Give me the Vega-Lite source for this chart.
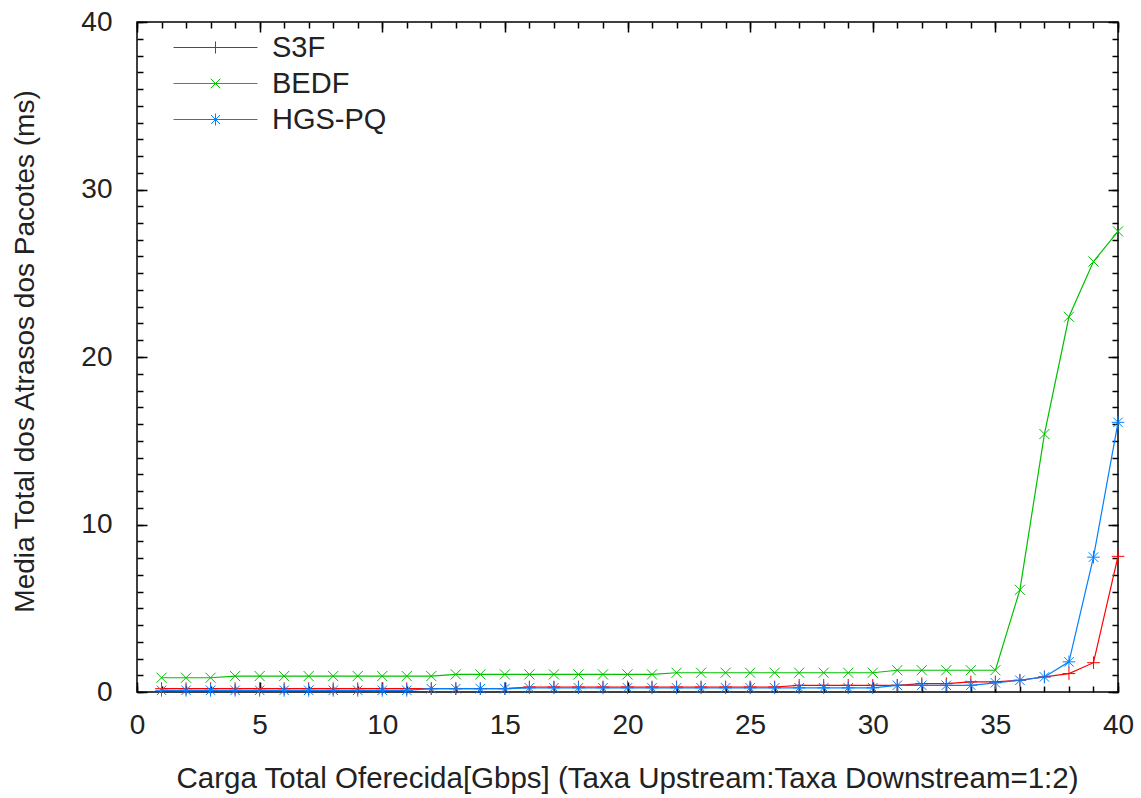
{
  "$schema": "https://vega.github.io/schema/vega-lite/v6.json",
  "width": 981,
  "height": 670,
  "autosize": {"type": "none"},
  "padding": {"left": 137, "top": 22, "right": 23, "bottom": 106},
  "background": "white",
  "config": {
    "view": {"stroke": "#000", "strokeWidth": 1.5},
    "font": "Liberation Sans",
    "axis": {
      "grid": false,
      "domain": false,
      "labelFont": "Liberation Sans",
      "titleFont": "Liberation Sans",
      "labelFontSize": 28,
      "titleFontSize": 28,
      "titleFontWeight": "normal",
      "labelColor": "#222",
      "titleColor": "#222",
      "tickColor": "#000",
      "tickWidth": 1.5,
      "labelFlush": false
    },
    "legend": {
      "orient": "none",
      "legendX": 64,
      "legendY": 11,
      "padding": 0,
      "labelFont": "Liberation Sans",
      "labelFontSize": 29,
      "labelColor": "#222",
      "symbolSize": 144,
      "symbolStrokeWidth": 1,
      "symbolFillColor": "transparent",
      "labelOffset": 42,
      "rowPadding": 6
    }
  },
  "data": {
    "values": [
      {"s": "S3F", "x": 1, "y": 0.2}, {"s": "S3F", "x": 2, "y": 0.2}, {"s": "S3F", "x": 3, "y": 0.2}, {"s": "S3F", "x": 4, "y": 0.2}, {"s": "S3F", "x": 5, "y": 0.2},
      {"s": "S3F", "x": 6, "y": 0.2}, {"s": "S3F", "x": 7, "y": 0.2}, {"s": "S3F", "x": 8, "y": 0.2}, {"s": "S3F", "x": 9, "y": 0.2}, {"s": "S3F", "x": 10, "y": 0.2},
      {"s": "S3F", "x": 11, "y": 0.2}, {"s": "S3F", "x": 12, "y": 0.2}, {"s": "S3F", "x": 13, "y": 0.2}, {"s": "S3F", "x": 14, "y": 0.2}, {"s": "S3F", "x": 15, "y": 0.2},
      {"s": "S3F", "x": 16, "y": 0.3}, {"s": "S3F", "x": 17, "y": 0.3}, {"s": "S3F", "x": 18, "y": 0.3}, {"s": "S3F", "x": 19, "y": 0.3}, {"s": "S3F", "x": 20, "y": 0.3},
      {"s": "S3F", "x": 21, "y": 0.3}, {"s": "S3F", "x": 22, "y": 0.3}, {"s": "S3F", "x": 23, "y": 0.3}, {"s": "S3F", "x": 24, "y": 0.3}, {"s": "S3F", "x": 25, "y": 0.3},
      {"s": "S3F", "x": 26, "y": 0.3}, {"s": "S3F", "x": 27, "y": 0.4}, {"s": "S3F", "x": 28, "y": 0.4}, {"s": "S3F", "x": 29, "y": 0.4}, {"s": "S3F", "x": 30, "y": 0.4},
      {"s": "S3F", "x": 31, "y": 0.4}, {"s": "S3F", "x": 32, "y": 0.5}, {"s": "S3F", "x": 33, "y": 0.5}, {"s": "S3F", "x": 34, "y": 0.6}, {"s": "S3F", "x": 35, "y": 0.6},
      {"s": "S3F", "x": 36, "y": 0.7}, {"s": "S3F", "x": 37, "y": 0.9}, {"s": "S3F", "x": 38, "y": 1.1}, {"s": "S3F", "x": 39, "y": 1.75}, {"s": "S3F", "x": 40, "y": 8.1},
      {"s": "BEDF", "x": 1, "y": 0.85}, {"s": "BEDF", "x": 2, "y": 0.85}, {"s": "BEDF", "x": 3, "y": 0.85}, {"s": "BEDF", "x": 4, "y": 0.95}, {"s": "BEDF", "x": 5, "y": 0.95},
      {"s": "BEDF", "x": 6, "y": 0.95}, {"s": "BEDF", "x": 7, "y": 0.95}, {"s": "BEDF", "x": 8, "y": 0.95}, {"s": "BEDF", "x": 9, "y": 0.95}, {"s": "BEDF", "x": 10, "y": 0.95},
      {"s": "BEDF", "x": 11, "y": 0.95}, {"s": "BEDF", "x": 12, "y": 0.95}, {"s": "BEDF", "x": 13, "y": 1.05}, {"s": "BEDF", "x": 14, "y": 1.05}, {"s": "BEDF", "x": 15, "y": 1.05},
      {"s": "BEDF", "x": 16, "y": 1.05}, {"s": "BEDF", "x": 17, "y": 1.05}, {"s": "BEDF", "x": 18, "y": 1.05}, {"s": "BEDF", "x": 19, "y": 1.05}, {"s": "BEDF", "x": 20, "y": 1.05},
      {"s": "BEDF", "x": 21, "y": 1.05}, {"s": "BEDF", "x": 22, "y": 1.15}, {"s": "BEDF", "x": 23, "y": 1.15}, {"s": "BEDF", "x": 24, "y": 1.15}, {"s": "BEDF", "x": 25, "y": 1.15},
      {"s": "BEDF", "x": 26, "y": 1.15}, {"s": "BEDF", "x": 27, "y": 1.15}, {"s": "BEDF", "x": 28, "y": 1.15}, {"s": "BEDF", "x": 29, "y": 1.15}, {"s": "BEDF", "x": 30, "y": 1.15},
      {"s": "BEDF", "x": 31, "y": 1.3}, {"s": "BEDF", "x": 32, "y": 1.3}, {"s": "BEDF", "x": 33, "y": 1.3}, {"s": "BEDF", "x": 34, "y": 1.3}, {"s": "BEDF", "x": 35, "y": 1.3},
      {"s": "BEDF", "x": 36, "y": 6.1}, {"s": "BEDF", "x": 37, "y": 15.4}, {"s": "BEDF", "x": 38, "y": 22.4}, {"s": "BEDF", "x": 39, "y": 25.7}, {"s": "BEDF", "x": 40, "y": 27.5},
      {"s": "HGS-PQ", "x": 1, "y": 0.1}, {"s": "HGS-PQ", "x": 2, "y": 0.1}, {"s": "HGS-PQ", "x": 3, "y": 0.1}, {"s": "HGS-PQ", "x": 4, "y": 0.1}, {"s": "HGS-PQ", "x": 5, "y": 0.1},
      {"s": "HGS-PQ", "x": 6, "y": 0.1}, {"s": "HGS-PQ", "x": 7, "y": 0.1}, {"s": "HGS-PQ", "x": 8, "y": 0.1}, {"s": "HGS-PQ", "x": 9, "y": 0.1}, {"s": "HGS-PQ", "x": 10, "y": 0.1},
      {"s": "HGS-PQ", "x": 11, "y": 0.1}, {"s": "HGS-PQ", "x": 12, "y": 0.2}, {"s": "HGS-PQ", "x": 13, "y": 0.2}, {"s": "HGS-PQ", "x": 14, "y": 0.2}, {"s": "HGS-PQ", "x": 15, "y": 0.2},
      {"s": "HGS-PQ", "x": 16, "y": 0.25}, {"s": "HGS-PQ", "x": 17, "y": 0.25}, {"s": "HGS-PQ", "x": 18, "y": 0.25}, {"s": "HGS-PQ", "x": 19, "y": 0.25}, {"s": "HGS-PQ", "x": 20, "y": 0.25},
      {"s": "HGS-PQ", "x": 21, "y": 0.25}, {"s": "HGS-PQ", "x": 22, "y": 0.25}, {"s": "HGS-PQ", "x": 23, "y": 0.25}, {"s": "HGS-PQ", "x": 24, "y": 0.25}, {"s": "HGS-PQ", "x": 25, "y": 0.25},
      {"s": "HGS-PQ", "x": 26, "y": 0.25}, {"s": "HGS-PQ", "x": 27, "y": 0.25}, {"s": "HGS-PQ", "x": 28, "y": 0.25}, {"s": "HGS-PQ", "x": 29, "y": 0.25}, {"s": "HGS-PQ", "x": 30, "y": 0.25},
      {"s": "HGS-PQ", "x": 31, "y": 0.4}, {"s": "HGS-PQ", "x": 32, "y": 0.4}, {"s": "HGS-PQ", "x": 33, "y": 0.4}, {"s": "HGS-PQ", "x": 34, "y": 0.4}, {"s": "HGS-PQ", "x": 35, "y": 0.55},
      {"s": "HGS-PQ", "x": 36, "y": 0.7}, {"s": "HGS-PQ", "x": 37, "y": 0.9}, {"s": "HGS-PQ", "x": 38, "y": 1.8}, {"s": "HGS-PQ", "x": 39, "y": 8.05}, {"s": "HGS-PQ", "x": 40, "y": 16.1}
    ]
  },
  "layer": [
    {
      "mark": {"type": "line", "strokeWidth": 1.2},
      "encoding": {
        "color": {
          "field": "s",
          "type": "nominal",
          "scale": {"domain": ["S3F", "BEDF", "HGS-PQ"], "range": ["#ff0000", "#00c000", "#0080ff"]},
          "legend": {
            "title": null,
            "encode": {
              "symbols": {
                "enter": {
                  "shape": {"signal": "datum.value === 'S3F' ? 'M-7,0L7,0M0,-1L0,1' : datum.value === 'BEDF' ? 'M-7,0L7,0M-0.8,-0.8L0.8,0.8M-0.8,0.8L0.8,-0.8' : 'M-7,0L7,0M0,-1L0,1M-0.75,-0.75L0.75,0.75M-0.75,0.75L0.75,-0.75'"},
                  "stroke": {"signal": "datum.value === 'S3F' ? '#ff0000' : datum.value === 'BEDF' ? '#00c000' : '#0080ff'"},
                  "fill": {"value": "transparent"},
                  "strokeWidth": {"value": 1},
                  "size": {"value": 144}
                },
                "update": {
                  "shape": {"signal": "datum.value === 'S3F' ? 'M-7,0L7,0M0,-1L0,1' : datum.value === 'BEDF' ? 'M-7,0L7,0M-0.8,-0.8L0.8,0.8M-0.8,0.8L0.8,-0.8' : 'M-7,0L7,0M0,-1L0,1M-0.75,-0.75L0.75,0.75M-0.75,0.75L0.75,-0.75'"},
                  "stroke": {"signal": "datum.value === 'S3F' ? '#ff0000' : datum.value === 'BEDF' ? '#00c000' : '#0080ff'"},
                  "fill": {"value": "transparent"},
                  "strokeWidth": {"value": 1},
                  "opacity": {"value": 1},
                  "size": {"value": 144}
                }
              }
            }
          }
        },
        "x": {
          "field": "x", "type": "quantitative", "scale": {"domain": [0, 40], "nice": false},
          "axis": {
            "orient": "bottom", "values": [0, 5, 10, 15, 20, 25, 30, 35, 40], "ticks": false, "labelPadding": 19,
            "title": "Carga Total Oferecida[Gbps] (Taxa Upstream:Taxa Downstream=1:2)",
            "titleFontSize": 29.5,
            "titleX": 490, "titleY": 95, "titleAnchor": "middle", "titleAlign": "center", "titleBaseline": "alphabetic"
          }
        },
        "y": {
          "field": "y", "type": "quantitative", "scale": {"domain": [0, 40], "nice": false},
          "axis": {
            "orient": "left", "values": [0, 10, 20, 30, 40], "ticks": false, "labelPadding": 25,
            "title": "Media Total dos Atrasos dos Pacotes (ms)",
            "titleFontSize": 28,
            "titleX": -104, "titleY": 329, "titleAngle": -90, "titleAlign": "center", "titleBaseline": "alphabetic"
          }
        }
      }
    },
    {
      "transform": [{"filter": "datum.s === 'S3F'"}],
      "mark": {"type": "point", "filled": false, "strokeWidth": 1, "size": 160, "opacity": 1, "shape": "M-1,0L1,0M0,-1L0,1"},
      "encoding": {
        "color": {"field": "s", "type": "nominal", "legend": null},
        "x": {"field": "x", "type": "quantitative", "axis": {"orient": "bottom", "values": [0, 5, 10, 15, 20, 25, 30, 35, 40], "labels": false, "tickSize": -10, "title": null}},
        "y": {"field": "y", "type": "quantitative", "axis": {"orient": "left", "values": [0, 10, 20, 30, 40], "labels": false, "tickSize": -10, "title": null}}
      }
    },
    {
      "transform": [{"filter": "datum.s === 'BEDF'"}],
      "mark": {"type": "point", "filled": false, "strokeWidth": 1, "size": 160, "opacity": 1, "shape": "M-0.8,-0.8L0.8,0.8M-0.8,0.8L0.8,-0.8"},
      "encoding": {
        "color": {"field": "s", "type": "nominal", "legend": null},
        "x": {"field": "x", "type": "quantitative", "axis": {"orient": "bottom", "values": [0,1,2,3,4,5,6,7,8,9,10,11,12,13,14,15,16,17,18,19,20,21,22,23,24,25,26,27,28,29,30,31,32,33,34,35,36,37,38,39,40], "labels": false, "tickSize": -6, "title": null}},
        "y": {"field": "y", "type": "quantitative", "axis": {"orient": "left", "values": [0,1,2,3,4,5,6,7,8,9,10,11,12,13,14,15,16,17,18,19,20,21,22,23,24,25,26,27,28,29,30,31,32,33,34,35,36,37,38,39,40], "labels": false, "tickSize": -6, "title": null}}
      }
    },
    {
      "transform": [{"filter": "datum.s === 'HGS-PQ'"}],
      "mark": {"type": "point", "filled": false, "strokeWidth": 1, "size": 160, "opacity": 1, "shape": "M-1,0L1,0M0,-1L0,1M-0.75,-0.75L0.75,0.75M-0.75,0.75L0.75,-0.75"},
      "encoding": {
        "color": {"field": "s", "type": "nominal", "legend": null},
        "x": {"field": "x", "type": "quantitative", "axis": {"orient": "top", "values": [0, 5, 10, 15, 20, 25, 30, 35, 40], "labels": false, "tickSize": -10, "title": null}},
        "y": {"field": "y", "type": "quantitative", "axis": {"orient": "right", "values": [0, 10, 20, 30, 40], "labels": false, "tickSize": -10, "title": null}}
      }
    },
    {
      "mark": {"type": "point", "opacity": 0},
      "encoding": {
        "x": {"field": "x", "type": "quantitative", "axis": {"orient": "top", "values": [0,1,2,3,4,5,6,7,8,9,10,11,12,13,14,15,16,17,18,19,20,21,22,23,24,25,26,27,28,29,30,31,32,33,34,35,36,37,38,39,40], "labels": false, "tickSize": -6, "title": null}},
        "y": {"field": "y", "type": "quantitative", "axis": {"orient": "right", "values": [0,1,2,3,4,5,6,7,8,9,10,11,12,13,14,15,16,17,18,19,20,21,22,23,24,25,26,27,28,29,30,31,32,33,34,35,36,37,38,39,40], "labels": false, "tickSize": -6, "title": null}}
      }
    }
  ],
  "resolve": {"axis": {"x": "independent", "y": "independent"}}
}
